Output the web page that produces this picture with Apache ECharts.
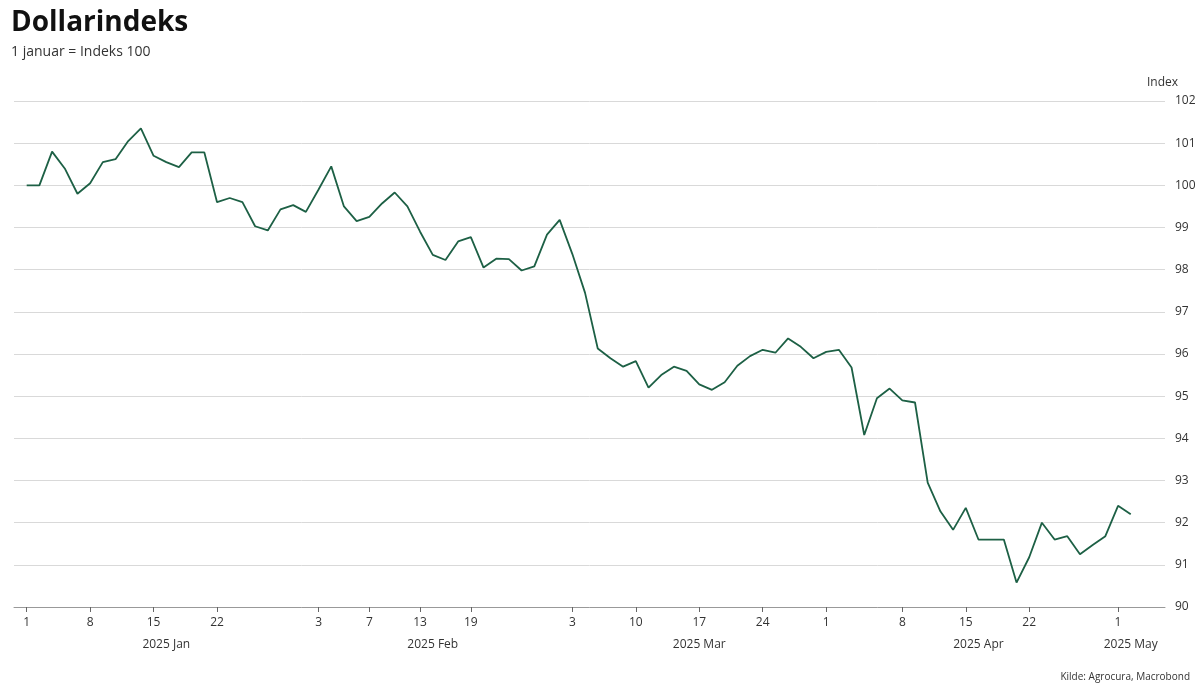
<!DOCTYPE html>
<html>
<head>
<meta charset="utf-8">
<script src="https://cdn.jsdelivr.net/npm/echarts@6/dist/echarts.min.js"></script>
<style>
  html, body { margin: 0; padding: 0; background: #fff; }
  #chart { width: 1200px; height: 688px; }
</style>
</head>
<body>
<div id="chart"></div>
<script>
// weekdays 1 Jan - 2 May 2025
const dates = [];
for (let d = new Date(Date.UTC(2025, 0, 1)); d <= new Date(Date.UTC(2025, 4, 2)); d.setUTCDate(d.getUTCDate() + 1)) {
    const wd = d.getUTCDay();
    if (wd !== 0 && wd !== 6) dates.push(d.toISOString().slice(0, 10));
}

const values = [
    100.0, 100.8, 100.4, 99.8, 100.05, 100.55, 100.62, 101.05, 101.35, 100.7,
    100.55, 100.43, 100.78, 100.78, 99.6, 99.7, 99.6, 99.03, 98.93, 99.43,
    99.53, 99.37, 99.9, 100.45, 99.5, 99.15, 99.25, 99.57, 99.83, 99.5,
    98.9, 98.35, 98.23, 98.67, 98.77, 98.05, 98.26, 98.25, 97.98, 98.08,
    98.83, 99.18, 98.37, 97.45, 96.13, 95.9, 95.7, 95.83, 95.2, 95.5,
    95.7, 95.6, 95.28, 95.15, 95.33, 95.72, 95.95, 96.1, 96.03, 96.37,
    96.17, 95.9, 96.05, 96.1, 95.68, 94.08, 94.95, 95.18, 94.9, 94.85,
    92.95, 92.27, 91.83, 92.35, 91.6, 91.6, 91.6, 90.58, 91.18, 92.0,
    91.6, 91.68, 91.25, 91.47, 91.68, 92.4, 92.2
];
while (values.length < dates.length) values.unshift(100.0);

const dayLabels = ['2025-01-01','2025-01-08','2025-01-15','2025-01-22','2025-02-03','2025-02-07','2025-02-13','2025-02-19',
    '2025-03-03','2025-03-10','2025-03-17','2025-03-24','2025-03-31','2025-04-08','2025-04-15','2025-04-22','2025-05-01'];
const monthLabels = {'2025-01-16': '2025 Jan', '2025-02-14': '2025 Feb', '2025-03-17': '2025 Mar', '2025-04-16': '2025 Apr', '2025-05-02': '2025 May'};

const dayIdx = dayLabels.map(d => dates.indexOf(d));
const monthIdx = Object.keys(monthLabels).map(d => dates.indexOf(d));
const points = values.map((v, i) => [i, v]);

const chart = echarts.init(document.getElementById('chart'));
const font = 'Open Sans';
chart.setOption({
    animation: false,
    textStyle: { fontFamily: font },
    title: {
        text: 'Dollarindeks', subtext: '1 januar = Indeks 100', left: 6, top: 4,
        textStyle: { fontSize: 28, fontWeight: 'bold', color: '#111', fontFamily: font },
        subtextStyle: { fontSize: 14, color: '#333', fontFamily: font }, itemGap: 8
    },
    graphic: [
        { type: 'text', right: 22, top: 77, style: { text: 'Index', fontSize: 12, fill: '#333', fontFamily: font } },
        { type: 'text', right: 10, bottom: 6, style: { text: 'Kilde: Agrocura, Macrobond', fontSize: 10, fill: '#333', fontFamily: font } }
    ],
    grid: { left: 14, right: 35, top: 101, bottom: 81 },
    xAxis: [{
        type: 'value', min: -1, max: 89.7,
        splitLine: { show: false },
        axisLine: { onZero: false, lineStyle: { color: '#999' } },
        axisTick: { length: 5, lineStyle: { color: '#666' }, customValues: dayIdx },
        axisLabel: {
            customValues: dayIdx, color: '#333', fontSize: 12, margin: 10,
            formatter: v => { const s = dates[Math.round(v)]; return s === '2025-03-31' ? '1' : String(Number(s.slice(8))); }
        }
    }, {
        type: 'value', min: -1, max: 89.7, position: 'bottom', offset: 24,
        splitLine: { show: false }, axisLine: { show: false }, axisTick: { show: false },
        axisLabel: { customValues: monthIdx, formatter: v => monthLabels[dates[Math.round(v)]] || '', color: '#333', fontSize: 12 }
    }],
    yAxis: {
        type: 'value', position: 'right', min: 90, max: 102, interval: 1,
        axisLine: { show: false }, axisTick: { show: false },
        axisLabel: { color: '#333', fontSize: 12, margin: 10 },
        splitLine: { lineStyle: { color: '#d9d9d9' } }
    },
    series: [{
        type: 'line', data: points, showSymbol: false,
        lineStyle: { color: '#1d6045', width: 1.8 }
    }]
});
</script>
</body>
</html>
